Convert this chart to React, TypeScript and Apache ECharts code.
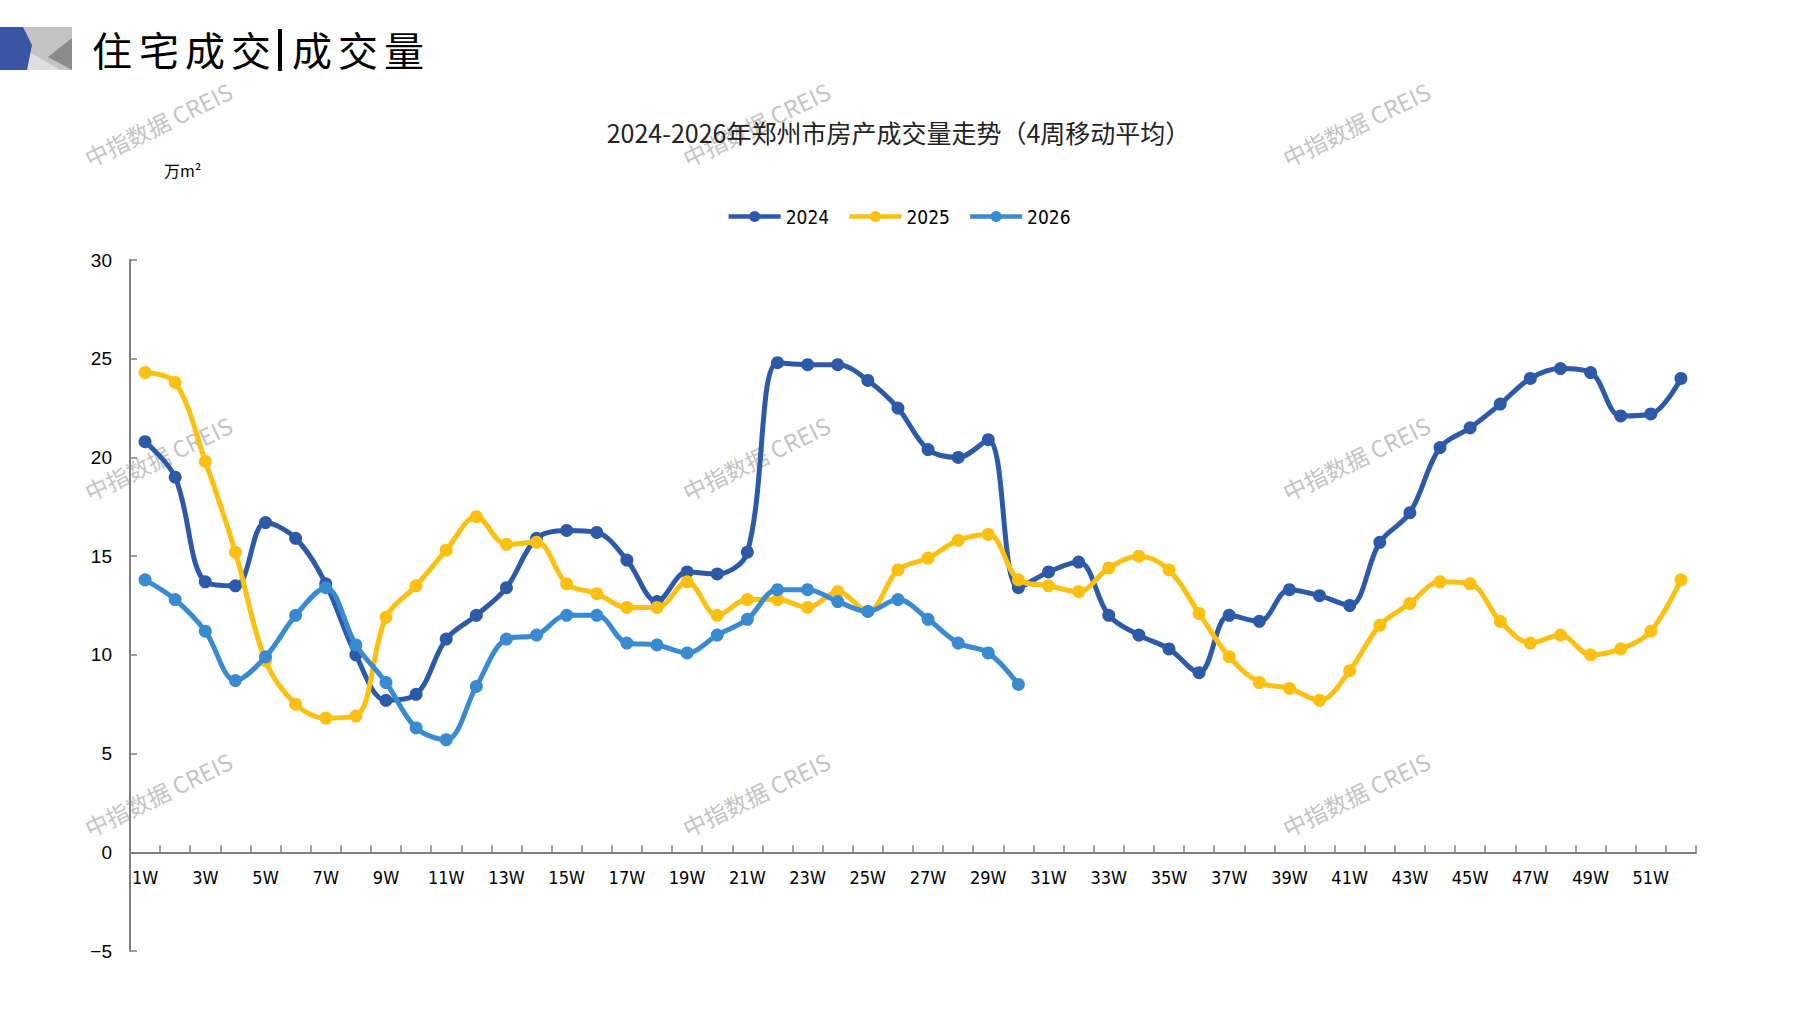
import React, { useEffect, useRef } from 'react';
import * as echarts from 'echarts';

// 4-week moving average of residential sales, 10k m²
const weeks = Array.from({ length: 52 }, (_, i) => `${i + 1}W`);

const sales2024 = [
  20.8, 19.0, 13.7, 13.5, 16.7, 15.9, 13.6, 10.0, 7.7, 8.0,
  10.8, 12.0, 13.4, 15.9, 16.3, 16.2, 14.8, 12.7, 14.2, 14.1,
  15.2, 24.8, 24.7, 24.7, 23.9, 22.5, 20.4, 20.0, 20.9, 13.4,
  14.2, 14.7, 12.0, 11.0, 10.3, 9.1, 12.0, 11.7, 13.3, 13.0,
  12.5, 15.7, 17.2, 20.5, 21.5, 22.7, 24.0, 24.5, 24.3, 22.1,
  22.2, 24.0,
];

const sales2025 = [
  24.3, 23.8, 19.8, 15.2, 9.7, 7.5, 6.8, 6.9, 11.9, 13.5,
  15.3, 17.0, 15.6, 15.7, 13.6, 13.1, 12.4, 12.4, 13.7, 12.0,
  12.8, 12.8, 12.4, 13.2, 12.2, 14.3, 14.9, 15.8, 16.1, 13.8,
  13.5, 13.2, 14.4, 15.0, 14.3, 12.1, 9.9, 8.6, 8.3, 7.7,
  9.2, 11.5, 12.6, 13.7, 13.6, 11.7, 10.6, 11.0, 10.0, 10.3,
  11.2, 13.8,
];

const sales2026 = [
  13.8, 12.8, 11.2, 8.7, 9.9, 12.0, 13.4, 10.5, 8.6, 6.3,
  5.7, 8.4, 10.8, 11.0, 12.0, 12.0, 10.6, 10.5, 10.1, 11.0,
  11.8, 13.3, 13.3, 12.7, 12.2, 12.8, 11.8, 10.6, 10.1, 8.5,
];

const seriesNames = ['2024', '2025', '2026'];
const seriesColors = ['#2D5AA8', '#FDC010', '#3A8AD2'];

const CJK = '"Noto Sans CJK SC", "Noto Sans", sans-serif';
const NARROW = '"DejaVu Sans Condensed", "Liberation Sans Narrow", "Liberation Sans", sans-serif';

const Y_MIN = -5;
const Y_MAX = 30;
const GRID_TOP = 260;
const GRID_BOTTOM = 59;
const CHART_H = 1010;
const AXIS_GRAY = '#7f7f7f';

function buildGraphics() {
  const els: any[] = [];

  // header badge
  els.push(
    { type: 'rect', shape: { x: 23, y: 27, width: 49, height: 43 }, style: { fill: '#c4c4c4' }, z: 1 },
    { type: 'polygon', shape: { points: [[30, 52], [27, 70], [60, 70]] }, style: { fill: '#dedede' }, z: 1 },
    { type: 'polygon', shape: { points: [[48, 57], [72, 38], [72, 70]] }, style: { fill: '#8a8a8a' }, z: 1 },
    { type: 'polygon', shape: { points: [[0, 27], [23, 27], [32, 45], [27, 70], [0, 70]] }, style: { fill: '#3A55A4' }, z: 2 },
  );

  // header title, spaced characters
  const head = [
    ['住', 92], ['宅', 139], ['成', 185], ['交', 231],
    ['成', 292], ['交', 338], ['量', 384],
  ] as const;
  head.forEach(([ch, x]) => {
    els.push({
      type: 'text', x, y: 49,
      style: { text: ch, fontSize: 40, fontFamily: CJK, fill: '#000', verticalAlign: 'middle' },
    });
  });
  els.push({ type: 'rect', shape: { x: 278, y: 29, width: 4, height: 42 }, style: { fill: '#000' } });

  // unit
  els.push({
    type: 'text', x: 164, y: 170,
    style: { text: '万m²', fontSize: 16, fontFamily: CJK, fill: '#000', verticalAlign: 'middle' },
  });

  // watermarks
  const wx = [158, 756, 1356];
  const wy = [124, 458, 794];
  wy.forEach((y) => wx.forEach((x) => {
    els.push({
      type: 'text', x, y, rotation: 0.45, z: -10,
      style: {
        text: '中指数据 CREIS', fontSize: 23, fontFamily: CJK,
        fill: '#c4c4c4', align: 'center', verticalAlign: 'middle',
      },
    });
  }));

  return els;
}

function buildOption(): echarts.EChartsOption {
  const data = [sales2024, sales2025, sales2026];
  // x axis sits on y = 0: shift it up from the grid bottom
  const plotH = CHART_H - GRID_TOP - GRID_BOTTOM;
  const zeroOffset = (plotH * (0 - Y_MIN)) / (Y_MAX - Y_MIN);

  return {
    animation: false,
    backgroundColor: '#fff',
    title: {
      text: '2024-2026年郑州市房产成交量走势（4周移动平均）',
      left: 'center',
      top: 114,
      textStyle: { fontSize: 25, fontWeight: 'normal', color: '#222', fontFamily: CJK },
    },
    legend: {
      top: 202,
      left: 'center',
      itemWidth: 52,
      itemHeight: 14,
      itemGap: 18,
      lineStyle: { width: 4.5 },
      textStyle: { fontSize: 19, color: '#000', fontFamily: NARROW },
      data: seriesNames,
    },
    grid: { left: 130, right: 101, top: GRID_TOP, bottom: GRID_BOTTOM, containLabel: false },
    xAxis: {
      type: 'category',
      data: weeks,
      boundaryGap: true,
      offset: -zeroOffset,
      axisLine: { onZero: false, lineStyle: { color: AXIS_GRAY, width: 2 } },
      axisTick: { show: true, inside: true, interval: 0, length: 7, lineStyle: { color: AXIS_GRAY, width: 1.5 } },
      axisLabel: {
        interval: 1,
        margin: 16,
        fontSize: 18,
        color: '#000',
        fontFamily: NARROW,
      },
      splitLine: { show: false },
    },
    yAxis: {
      type: 'value',
      min: Y_MIN,
      max: Y_MAX,
      interval: 5,
      axisLine: { show: true, lineStyle: { color: AXIS_GRAY, width: 2 } },
      axisTick: { show: true, inside: true, length: 7, lineStyle: { color: AXIS_GRAY, width: 1.5 } },
      axisLabel: {
        margin: 18,
        fontSize: 19,
        color: '#000',
        fontFamily: 'Liberation Sans, Arial, sans-serif',
        formatter: (v: number) => (v < 0 ? `−${Math.abs(v)}` : `${v}`),
      },
      splitLine: { show: false },
    },
    series: data.map((d, i) => ({
      name: seriesNames[i],
      type: 'line',
      data: d,
      smooth: 0.35,
      symbol: 'circle',
      symbolSize: 13,
      showAllSymbol: true,
      lineStyle: { width: 5, color: seriesColors[i] },
      itemStyle: { color: seriesColors[i] },
      z: 3 + i,
    })),
    graphic: { elements: buildGraphics() },
  };
}

export default function App() {
  const ref = useRef<HTMLDivElement>(null);

  useEffect(() => {
    document.body.style.margin = '0';
    if (!ref.current) return;
    const chart = echarts.init(ref.current, undefined, { renderer: 'svg' });
    chart.setOption(buildOption());
    return () => {
      chart.dispose();
    };
  }, []);

  return <div ref={ref} style={{ width: 1797, height: 1010 }} />;
}
